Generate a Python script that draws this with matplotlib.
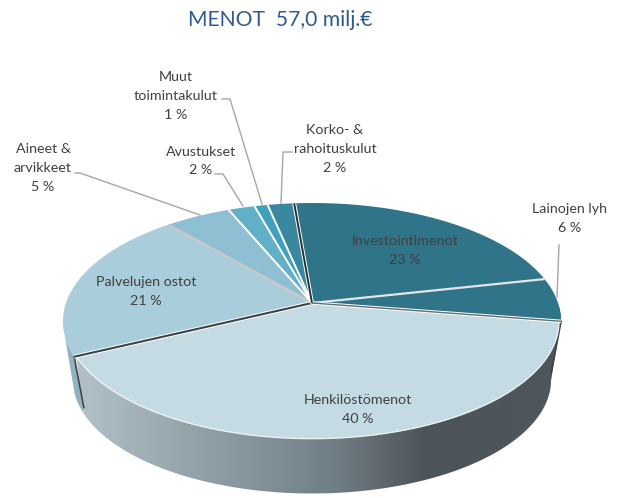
import numpy as np
import matplotlib.pyplot as plt
from matplotlib.colors import LinearSegmentedColormap
from matplotlib.patches import Polygon

# Data
categories = ['Investointimenot', 'Lainojen lyh', 'Henkilöstömenot', 'Palvelujen ostot',
              'Aineet &\narvikkeet', 'Avustukset', 'Muut\ntoimintakulut', 'Korko- &\nrahoituskulut']
shares = [22.9, 5.9, 40.4, 20.8, 5, 2, 1, 2]
colors = ['#2f7488', '#2f7488', '#c5dbe4', '#a9cddb', '#8fbfd2', '#62afc8', '#41a1bd', '#3a88a0']
title = 'MENOT  57,0 milj.€'

plt.rcParams['font.family'] = ['Lato', 'DejaVu Sans']

fig = plt.figure(figsize=(6.17, 4.98), dpi=100)
ax = fig.add_axes([0, 0, 1, 1])
ax.set_xlim(0, 617)
ax.set_ylim(498, 0)
ax.axis('off')

CX, CY = 312, 303
A, B, K = 115.6, 246, 0.156
DROP = 59


def project(deg, r=1.0, bottom=False):
    # circle seen in perspective, near edge looks longer
    t = np.radians(deg)
    u, v = r * np.cos(t), r * np.sin(t)
    x = B * u / (1 + K * v)
    y = A * v / (1 + K * v)
    if bottom:
        return CX + 0.96 * x, CY - 0.96 * y + DROP
    return CX + x, CY - y


start = 94.8
edges = start - np.cumsum([0] + shares) * 3.6
R_FRONT = 0.992

# Side wall with gradient
arc = np.linspace(edges[2], edges[3], 200)
xt, yt = project(arc, R_FRONT)
xb, yb = project(arc, bottom=True)
wall = Polygon(np.column_stack([np.r_[xt, xb[::-1]], np.r_[yt, yb[::-1]]]),
               closed=True, transform=ax.transData, fc='none', ec='none')
ax.add_patch(wall)
cmap = LinearSegmentedColormap.from_list(
    'wall', [(0, '#b4c3c9'), (0.35, '#87969d'), (0.55, '#6f7c83'), (0.72, '#4d5459'), (1, '#4f575c')])
img = ax.imshow(np.linspace(0, 1, 256).reshape(1, -1), cmap=cmap, extent=[70, 562, 498, 250],
                aspect='auto', zorder=2)
img.set_clip_path(wall)
ax.set_xlim(0, 617)
ax.set_ylim(498, 0)

# Left bit of the Palvelujen ostot wall
arc2 = np.linspace(edges[3], edges[3] - 10, 30)
xt2, yt2 = project(arc2)
xb2, yb2 = project(arc2, bottom=True)
ax.fill(np.r_[xt2, xb2[::-1]], np.r_[yt2, yb2[::-1]], color='#8fb3c1', lw=0, zorder=1)

# Right bit of the Lainojen lyh wall
arc3 = np.linspace(edges[2], edges[2] + 8, 20)
xt3, yt3 = project(arc3)
xb3, yb3 = project(arc3, bottom=True)
ax.fill(np.r_[xt3, xb3[::-1]], np.r_[yt3, yb3[::-1]], color='#3f5a66', lw=0, zorder=1)

# Top slices
for i, share in enumerate(shares):
    ang = np.linspace(edges[i], edges[i + 1], max(int(share * 6), 8))
    x, y = project(ang, R_FRONT if i == 2 else 1.0)
    ax.fill(np.r_[CX, x], np.r_[CY, y], color=colors[i], lw=0, zorder=3)

# Rim highlight along the front
x, y = project(arc, R_FRONT)
ax.plot(x, y, color='#eaf2f5', lw=1, zorder=4)

# Slice separators
seps = [('#dfe7ea', 1.6), ('#5f6d73', 1.0), ('#3a4448', 1.5), ('#c9c9c9', 1.8),
        ('#ffffff', 1.4), ('#ffffff', 1.4), ('#ffffff', 1.4), ('#26343a', 1.4)]
for i, (c, lw) in enumerate(seps):
    deg = edges[i + 1]
    x, y = project(deg)
    if c in ('#3a4448', '#26343a', '#5f6d73'):
        ax.plot([CX, x], [CY, y], color='white', lw=lw + 1.4, zorder=4, solid_capstyle='butt')
    ax.plot([CX, x], [CY, y], color=c, lw=lw, zorder=5, solid_capstyle='butt')

# Dark edges dropping down the wall at the slice gaps
for deg, col in [(edges[3], '#3a4448'), (edges[2], '#3a4448')]:
    x0, y0 = project(deg)
    x1, y1 = project(deg, bottom=True)
    y1 = y1 - 6
    ax.plot([x0, x1], [y0, y1], color=col, lw=1.2, zorder=2.6)

# Leader lines
leaders = [
    ([75, 80, 200], [173, 173, 215]),
    ([215, 223, 243], [174, 174, 206]),
    ([222, 230, 262], [99, 99, 204]),
    ([292, 283, 281], [152, 152, 203]),
    ([559, 559, 557], [245, 245, 297]),
]
for lx, ly in leaders:
    ax.plot(lx, ly, color='#a6a6a6', lw=1, zorder=6)

# Labels
label_pos = [(405, 250.5), (570, 218.5), (358, 409.5), (146, 291.5),
             (43, 168), (201, 161), (176, 96), (335, 149)]
for name, share, (lx, ly) in zip(categories, shares, label_pos):
    ax.text(lx, ly, f'{name}\n{round(share)} %', ha='center', va='center', fontsize=10.3,
            color='#404040', linespacing=1.68, zorder=7)

ax.text(280, 20, title, ha='center', va='center', fontsize=15.2, color='#2f5a8f')

fig.savefig('out.png', dpi=100)
